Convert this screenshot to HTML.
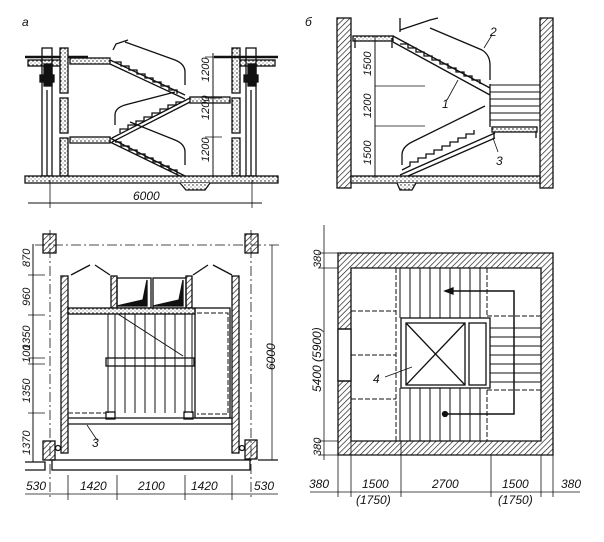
<!DOCTYPE html>
<html><head><meta charset="utf-8"><style>
html,body{margin:0;padding:0;background:#fff;width:604px;height:542px;overflow:hidden}
svg{display:block}
text{font-family:"Liberation Sans",sans-serif;font-style:italic;font-size:12px;fill:#111}
.s{font-size:11px}
</style></head><body>
<svg width="604" height="542" viewBox="0 0 604 542" xmlns="http://www.w3.org/2000/svg">
<defs>
<pattern id="h" width="4" height="4" patternUnits="userSpaceOnUse" patternTransform="rotate(45)">
<rect width="4" height="4" fill="#fff"/><line x1="0" y1="0" x2="0" y2="4" stroke="#111" stroke-width="1.3"/></pattern>
<pattern id="d" width="4" height="4" patternUnits="userSpaceOnUse">
<rect width="4" height="4" fill="#fff"/><circle cx="1" cy="1" r="0.7" fill="#111"/><circle cx="3" cy="3" r="0.5" fill="#333"/></pattern>
</defs>
<g stroke="#111" fill="none" stroke-width="1.3">
<!-- ===== Panel a ===== -->
<text x="22" y="26" stroke="none" font-size="14">а</text>
<line x1="25" y1="57" x2="88" y2="57" stroke-width="2.5"/>
<rect x="28" y="60" width="35" height="6" fill="url(#d)"/>
<rect x="42" y="48" width="10" height="128"/>
<rect x="44" y="64" width="8" height="22" fill="#111"/>
<rect x="40" y="75" width="14" height="7" fill="#111"/>
<line x1="47" y1="90" x2="47" y2="176"/>
<rect x="60" y="48" width="8" height="45" fill="url(#d)"/>
<rect x="60" y="98" width="8" height="35" fill="url(#d)"/>
<rect x="60" y="138" width="8" height="38" fill="url(#d)"/>
<rect x="232" y="48" width="8" height="45" fill="url(#d)"/>
<rect x="232" y="98" width="8" height="35" fill="url(#d)"/>
<rect x="232" y="138" width="8" height="38" fill="url(#d)"/>
<line x1="214" y1="57" x2="278" y2="57" stroke-width="2.5"/>
<rect x="240" y="60" width="35" height="6" fill="url(#d)"/>
<rect x="246" y="48" width="10" height="128"/>
<rect x="248" y="64" width="8" height="22" fill="#111"/>
<rect x="244" y="75" width="14" height="7" fill="#111"/>
<line x1="251" y1="90" x2="251" y2="176"/>
<rect x="25" y="176" width="253" height="7" fill="url(#d)"/>
<path d="M180 183 L186 190 L205 190 L210 183" fill="url(#d)"/>
<rect x="70" y="58" width="40" height="6" fill="url(#d)"/>
<rect x="70" y="137" width="40" height="6" fill="url(#d)"/>
<rect x="190" y="97" width="40" height="6" fill="url(#d)"/>
<path d="M110 60 L185 95 M110 64 L185 99" />
<path d="M115 62 l6 0 l0 4 l8 0 l0 4 l8 0 l0 4 l8 0 l0 4 l8 0 l0 4 l8 0 l0 4 l8 0 l0 4 l8 0 l0 4"/>
<path d="M125 42 L175 60 Q185 64 185 72 L185 85" />
<path d="M110 138 L185 176 M110 142 L180 176" />
<path d="M115 142 l6 0 l0 4 l8 0 l0 4 l8 0 l0 4 l8 0 l0 4 l8 0 l0 4 l8 0 l0 4 l8 0 l0 4 l8 0 l0 4"/>
<path d="M130 122 L175 140 Q185 144 185 152 L185 165" />
<path d="M190 98 L112 138 M190 102 L112 142"/>
<path d="M182 102 l-6 0 l0 3 l-8 0 l0 4 l-8 0 l0 4 l-8 0 l0 4 l-8 0 l0 4 l-8 0 l0 4 l-8 0 l0 4 l-8 0 l0 4"/>
<path d="M175 92 L125 105 Q115 108 115 115 L115 125"/>
<path d="M113 50 l3 -6 l12 -4" />
<line x1="213" y1="53" x2="213" y2="178" stroke-width="1"/>
<line x1="205" y1="57" x2="222" y2="57" stroke-width="0.8"/>
<line x1="205" y1="98" x2="222" y2="98" stroke-width="0.8"/>
<line x1="205" y1="137" x2="222" y2="137" stroke-width="0.8"/>
<line x1="28" y1="203" x2="262" y2="203" stroke-width="1"/>
<line x1="50" y1="180" x2="50" y2="208" stroke-width="0.8"/>
<line x1="252" y1="180" x2="252" y2="208" stroke-width="0.8"/>
</g>
<g stroke="none">
<text class="s" transform="translate(209,82) rotate(-90)">1200</text>
<text class="s" transform="translate(209,120) rotate(-90)">1200</text>
<text class="s" transform="translate(209,162) rotate(-90)">1200</text>
<text x="133" y="200">6000</text>
</g>

<!-- ===== Panel б ===== -->
<g stroke="#111" fill="none" stroke-width="1.3">
<text x="305" y="26" stroke="none" font-size="14">б</text>
<rect x="337" y="18" width="14" height="170" fill="url(#h)"/>
<rect x="540" y="18" width="13" height="170" fill="url(#h)"/>
<rect x="351" y="176" width="189" height="7" fill="url(#d)"/>
<path d="M397 183 L400 190 L412 190 L416 183" fill="url(#d)"/>
<rect x="353" y="36" width="40" height="5" fill="url(#d)"/>
<path d="M355 38 l0 10 M392 38 l0 10"/>
<path d="M393 42 L490 95 M393 36 L490 88"/>
<path d="M400 44 l8 0 l0 4 l8 0 l0 4 l8 0 l0 4 l8 0 l0 4 l8 0 l0 4 l8 0 l0 4 l8 0 l0 4 l8 0 l0 4 l8 0 l0 4 l8 0 l0 4"/>
<path d="M400 30 l30 -10 l8 -2 M400 18 l0 14"/>
<path d="M430 28 L482 50 Q490 55 490 65 L490 80"/>
<path d="M400 175 L495 133 M408 176 L495 138"/>
<path d="M402 170 l8 -4 l0 -4 l8 0 l0 -4 l8 0 l0 -4 l8 0 l0 -4 l8 0 l0 -4 l8 0 l0 -4 l8 0 l0 -4 l8 0 l0 -4 l8 0 l0 -4"/>
<path d="M485 106 L412 142 Q402 147 402 155 L402 165"/>
<rect x="492" y="127" width="45" height="5" fill="url(#d)"/>
<path d="M494 132 l0 6 M536 132 l0 6"/>
<line x1="490" y1="84" x2="490" y2="127"/>
<g stroke-width="1">
<line x1="490" y1="85" x2="540" y2="85"/><line x1="490" y1="92" x2="540" y2="92"/>
<line x1="490" y1="99" x2="540" y2="99"/><line x1="490" y1="106" x2="540" y2="106"/>
<line x1="490" y1="113" x2="540" y2="113"/><line x1="490" y1="120" x2="540" y2="120"/>
</g>
<line x1="375" y1="36" x2="375" y2="178" stroke-width="1"/>
<line x1="375" y1="86" x2="425" y2="86" stroke-width="0.8"/>
<line x1="375" y1="126" x2="425" y2="126" stroke-width="0.8"/>
<line x1="447" y1="100" x2="458" y2="80" stroke-width="0.8"/>
<line x1="484" y1="48" x2="492" y2="35" stroke-width="0.8"/>
<line x1="493" y1="138" x2="498" y2="152" stroke-width="0.8"/>
</g>
<g stroke="none">
<text class="s" transform="translate(371,76) rotate(-90)">1500</text>
<text class="s" transform="translate(371,118) rotate(-90)">1200</text>
<text class="s" transform="translate(371,165) rotate(-90)">1500</text>
<text x="442" y="108">1</text>
<text x="490" y="36">2</text>
<text x="496" y="165">3</text>
</g>

<!-- ===== Panel bottom-left ===== -->
<g stroke="#111" fill="none" stroke-width="1.3">
<rect x="43" y="234" width="13" height="19" fill="url(#h)"/>
<rect x="245" y="234" width="13" height="19" fill="url(#h)"/>
<rect x="43" y="441" width="12" height="19" fill="url(#h)"/>
<rect x="245" y="440" width="12" height="19" fill="url(#h)"/>
<line x1="35" y1="245" x2="280" y2="245" stroke-width="0.8" stroke-dasharray="10,3,2,3"/>
<line x1="50" y1="230" x2="50" y2="500" stroke-width="0.8" stroke-dasharray="10,3,2,3"/>
<line x1="251" y1="230" x2="251" y2="500" stroke-width="0.8" stroke-dasharray="10,3,2,3"/>
<rect x="61" y="276" width="7" height="177" fill="url(#h)"/>
<rect x="232" y="276" width="7" height="177" fill="url(#h)"/>
<circle cx="58" cy="448" r="2.5"/><circle cx="242" cy="448" r="2.5"/>
<path d="M71 275 L90 265 M95 265 L110 275 M193 275 L208 265 M213 265 L232 275"/>
<rect x="111" y="276" width="6" height="32" fill="url(#h)"/>
<rect x="186" y="276" width="6" height="32" fill="url(#h)"/>
<rect x="117" y="278" width="34" height="30"/>
<rect x="153" y="278" width="33" height="30"/>
<path d="M117 306 L143 300 L147 280 L147 306 Z M153 306 L179 300 L183 280 L183 306 Z" fill="#111"/>
<rect x="68" y="308" width="127" height="6" fill="url(#d)"/>
<rect x="195" y="308" width="35" height="110"/>
<path d="M197 313 L228 313 L228 414 L197 414" stroke-dasharray="5,2" stroke-width="1"/>
<path d="M68 413 L106 413" stroke-dasharray="5,2" stroke-width="1"/>
<rect x="106" y="358" width="88" height="8"/>
<g stroke-width="1">
<line x1="108" y1="314" x2="108" y2="413"/><line x1="115" y1="314" x2="115" y2="413"/>
<line x1="125" y1="314" x2="125" y2="413"/><line x1="135" y1="314" x2="135" y2="413"/>
<line x1="145" y1="314" x2="145" y2="413"/><line x1="155" y1="314" x2="155" y2="413"/>
<line x1="165" y1="314" x2="165" y2="413"/><line x1="175" y1="314" x2="175" y2="413"/>
<line x1="185" y1="314" x2="185" y2="413"/><line x1="192" y1="314" x2="192" y2="413"/>
<line x1="118" y1="314" x2="183" y2="356"/>
</g>
<rect x="106" y="412" width="9" height="7"/><rect x="184" y="412" width="9" height="7"/>
<line x1="68" y1="418" x2="232" y2="418"/>
<line x1="68" y1="424" x2="232" y2="424"/>
<line x1="87" y1="425" x2="97" y2="440" stroke-width="0.8"/>
<path d="M25 462 L45 462 L45 470 L25 470" />
<rect x="52" y="460" width="198" height="10"/>
<path d="M258 460 L278 460"/>
<line x1="33" y1="244" x2="33" y2="462" stroke-width="1"/>
<g stroke-width="0.8">
<line x1="28" y1="275" x2="45" y2="275"/><line x1="28" y1="315" x2="45" y2="315"/>
<line x1="28" y1="358" x2="45" y2="358"/><line x1="28" y1="364" x2="45" y2="364"/>
<line x1="28" y1="413" x2="45" y2="413"/>
<line x1="272" y1="245" x2="272" y2="460"/>
<line x1="25" y1="494" x2="278" y2="494"/>
<line x1="68" y1="475" x2="68" y2="500"/><line x1="117" y1="475" x2="117" y2="500"/>
<line x1="185" y1="475" x2="185" y2="500"/><line x1="232" y1="475" x2="232" y2="500"/>
</g>
</g>
<g stroke="none">
<text class="s" transform="translate(30,267) rotate(-90)">870</text>
<text class="s" transform="translate(30,306) rotate(-90)">960</text>
<text class="s" transform="translate(30,350) rotate(-90)">1350</text>
<text class="s" transform="translate(30,363) rotate(-90)" font-size="9">100</text>
<text class="s" transform="translate(30,403) rotate(-90)">1350</text>
<text class="s" transform="translate(30,455) rotate(-90)">1370</text>
<text transform="translate(275,370) rotate(-90)">6000</text>
<text x="92" y="447">3</text>
<text x="26" y="490">530</text>
<text x="80" y="490">1420</text>
<text x="138" y="490">2100</text>
<text x="191" y="490">1420</text>
<text x="254" y="490">530</text>
</g>

<!-- ===== Plan ===== -->
<g stroke="#111" fill="none" stroke-width="1.3">
<path fill-rule="evenodd" fill="url(#h)" d="M338 253 L553 253 L553 455 L338 455 Z M351 268 L541 268 L541 441 L351 441 Z"/>
<rect x="338" y="329" width="13" height="52" fill="#fff"/>
<line x1="338" y1="329" x2="351" y2="329"/><line x1="338" y1="381" x2="351" y2="381"/>
<line x1="338" y1="329" x2="338" y2="381" stroke-width="0.6"/>
<g stroke-width="1">
<line x1="396" y1="268" x2="396" y2="441" stroke-dasharray="5,2"/>
<line x1="487" y1="268" x2="487" y2="316" stroke-dasharray="5,2"/>
<line x1="487" y1="390" x2="487" y2="441" stroke-dasharray="5,2"/>
<line x1="351" y1="311" x2="396" y2="311" stroke-dasharray="5,2"/>
<line x1="351" y1="355" x2="396" y2="355" stroke-dasharray="5,2"/>
<line x1="351" y1="399" x2="396" y2="399" stroke-dasharray="5,2"/>
<line x1="487" y1="316" x2="541" y2="316" stroke-dasharray="5,2"/>
<line x1="487" y1="390" x2="541" y2="390" stroke-dasharray="5,2"/>
<line x1="400" y1="268" x2="400" y2="318"/><line x1="410" y1="268" x2="410" y2="318"/>
<line x1="420" y1="268" x2="420" y2="318"/><line x1="430" y1="268" x2="430" y2="318"/>
<line x1="440" y1="268" x2="440" y2="318"/><line x1="450" y1="268" x2="450" y2="318"/>
<line x1="460" y1="268" x2="460" y2="318"/><line x1="470" y1="268" x2="470" y2="318"/>
<line x1="480" y1="268" x2="480" y2="318"/>
<line x1="400" y1="388" x2="400" y2="441"/><line x1="410" y1="388" x2="410" y2="441"/>
<line x1="420" y1="388" x2="420" y2="441"/><line x1="430" y1="388" x2="430" y2="441"/>
<line x1="440" y1="388" x2="440" y2="441"/><line x1="450" y1="388" x2="450" y2="441"/>
<line x1="460" y1="388" x2="460" y2="441"/><line x1="470" y1="388" x2="470" y2="441"/>
<line x1="480" y1="388" x2="480" y2="441"/>
<line x1="490" y1="328" x2="541" y2="328"/><line x1="490" y1="337" x2="541" y2="337"/>
<line x1="490" y1="346" x2="541" y2="346"/><line x1="490" y1="355" x2="541" y2="355"/>
<line x1="490" y1="364" x2="541" y2="364"/><line x1="490" y1="373" x2="541" y2="373"/>
<line x1="490" y1="382" x2="541" y2="382"/>
</g>
<rect x="401" y="318" width="89" height="70" fill="#fff"/>
<rect x="406" y="323" width="59" height="62"/>
<line x1="406" y1="323" x2="465" y2="385"/><line x1="465" y1="323" x2="406" y2="385"/>
<rect x="469" y="323" width="17" height="62"/>
<path d="M445 414 L514 414 L514 291 L445 291" stroke-width="1.5"/>
<path d="M445 291 l8 -3 l0 6 z" fill="#111"/>
<circle cx="445" cy="414" r="2.5" fill="#111"/>
<line x1="385" y1="377" x2="412" y2="367" stroke-width="0.8"/>
<g stroke-width="0.8">
<line x1="324" y1="225" x2="324" y2="460"/>
<line x1="318" y1="253" x2="338" y2="253"/><line x1="318" y1="268" x2="338" y2="268"/>
<line x1="318" y1="441" x2="338" y2="441"/><line x1="318" y1="455" x2="338" y2="455"/>
<line x1="310" y1="492" x2="580" y2="492"/>
<line x1="338" y1="455" x2="338" y2="497"/><line x1="351" y1="441" x2="351" y2="497"/>
<line x1="401" y1="441" x2="401" y2="497"/><line x1="491" y1="455" x2="491" y2="497"/>
<line x1="541" y1="455" x2="541" y2="497"/><line x1="553" y1="440" x2="553" y2="497"/>
</g>
</g>
<g stroke="none">
<text class="s" transform="translate(321,268) rotate(-90)">380</text>
<text transform="translate(321,392) rotate(-90)">5400 (5900)</text>
<text class="s" transform="translate(321,456) rotate(-90)">380</text>
<text x="373" y="383">4</text>
<text x="309" y="488">380</text>
<text x="362" y="488">1500</text>
<text x="356" y="504">(1750)</text>
<text x="432" y="488">2700</text>
<text x="502" y="488">1500</text>
<text x="498" y="504">(1750)</text>
<text x="561" y="488">380</text>
</g>
</svg>
</body></html>
